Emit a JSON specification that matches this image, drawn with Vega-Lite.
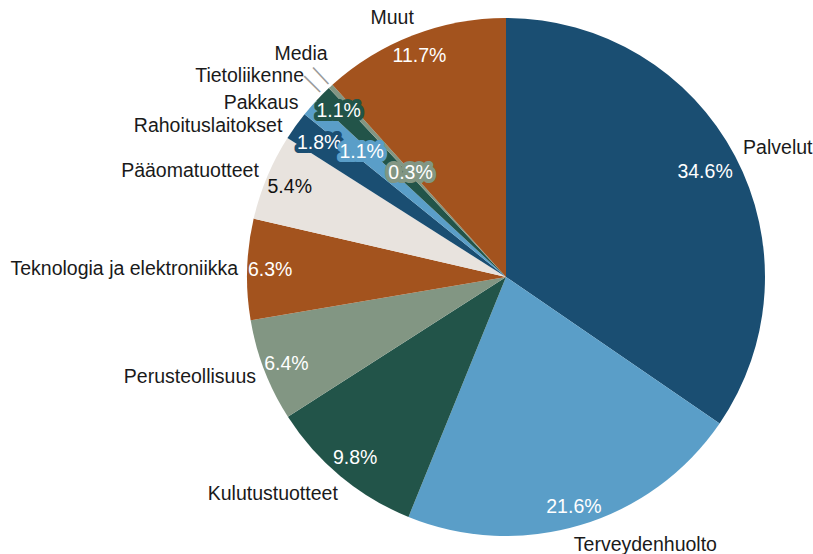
{
  "$schema": "https://vega.github.io/schema/vega-lite/v6.json",
  "width": 614,
  "height": 554,
  "autosize": "none",
  "padding": {"left": 199, "top": 0, "right": 0, "bottom": 0},
  "background": "white",
  "config": {"view": {"stroke": null}, "text": {"font": "Liberation Sans", "fontSize": 19.5, "baseline": "middle"}},
  "data": {"values": [
    {"k": "Palvelut", "v": 0.346, "i": 1},
    {"k": "Terveydenhuolto", "v": 0.216, "i": 2},
    {"k": "Kulutustuotteet", "v": 0.098, "i": 3},
    {"k": "Perusteollisuus", "v": 0.064, "i": 4},
    {"k": "Teknologia ja elektroniikka", "v": 0.063, "i": 5},
    {"k": "Pääomatuotteet", "v": 0.054, "i": 6},
    {"k": "Rahoituslaitokset", "v": 0.018, "i": 7},
    {"k": "Pakkaus", "v": 0.011, "i": 8},
    {"k": "Tietoliikenne", "v": 0.011, "i": 9},
    {"k": "Media", "v": 0.003, "i": 10},
    {"k": "Muut", "v": 0.117, "i": 11}
  ]},
  "encoding": {
    "theta": {"field": "v", "type": "quantitative", "stack": true},
    "order": {"field": "i", "type": "quantitative"}
  },
  "layer": [
    {
      "mark": {"type": "arc", "outerRadius": 259},
      "encoding": {
        "color": {"field": "k", "type": "nominal", "legend": null,
          "scale": {"domain": ["Palvelut","Terveydenhuolto","Kulutustuotteet","Perusteollisuus","Teknologia ja elektroniikka","Pääomatuotteet","Rahoituslaitokset","Pakkaus","Tietoliikenne","Media","Muut"],
                    "range": ["#1a4e72","#5a9ec8","#225449","#829683","#a3531e","#e8e3de","#1a4e72","#5a9ec8","#225449","#829683","#a3531e"]}}
      }
    },
    {
      "mark": {"type": "text", "radius": 273, "angle": 315, "font": "DejaVu Sans", "fontSize": 19, "fill": "#9a9a9a"},
      "encoding": {"text": {"condition": {"test": "datum.k === 'Tietoliikenne'", "value": "│"}, "value": ""}}
    },
    {
      "mark": {"type": "text", "radius": 273, "angle": 317, "font": "DejaVu Sans", "fontSize": 19, "fill": "#9a9a9a"},
      "encoding": {"text": {"condition": {"test": "datum.k === 'Media'", "value": "│"}, "value": ""}}
    },
    {
      "mark": {"type": "text", "radius": 268, "align": "left", "dy": -4, "fill": "#1a1a1a"},
      "encoding": {"text": {"condition": {"test": "datum.k === 'Palvelut'", "field": "k"}, "value": ""}}
    },
    {
      "mark": {"type": "text", "radius": 274, "align": "left", "dx": -11, "dy": 6, "fill": "#1a1a1a"},
      "encoding": {"text": {"condition": {"test": "datum.k === 'Terveydenhuolto'", "field": "k"}, "value": ""}}
    },
    {
      "mark": {"type": "text", "radius": 285, "align": "right", "dx": 14, "dy": -2, "fill": "#1a1a1a"},
      "encoding": {"text": {"condition": {"test": "datum.k === 'Kulutustuotteet'", "field": "k"}, "value": ""}}
    },
    {
      "mark": {"type": "text", "radius": 268, "align": "right", "dy": 3, "fill": "#1a1a1a"},
      "encoding": {"text": {"condition": {"test": "datum.k === 'Perusteollisuus'", "field": "k"}, "value": ""}}
    },
    {
      "mark": {"type": "text", "radius": 268, "align": "right", "fill": "#1a1a1a"},
      "encoding": {"text": {"condition": {"test": "datum.k === 'Teknologia ja elektroniikka'", "field": "k"}, "value": ""}}
    },
    {
      "mark": {"type": "text", "radius": 268, "align": "right", "dy": -2, "fill": "#1a1a1a"},
      "encoding": {"text": {"condition": {"test": "datum.k === 'Pääomatuotteet'", "field": "k"}, "value": ""}}
    },
    {
      "mark": {"type": "text", "radius": 268, "align": "right", "dx": -6, "dy": 5, "fill": "#1a1a1a"},
      "encoding": {"text": {"condition": {"test": "datum.k === 'Rahoituslaitokset'", "field": "k"}, "value": ""}}
    },
    {
      "mark": {"type": "text", "radius": 268, "align": "right", "dx": -5, "dy": 2, "fill": "#1a1a1a"},
      "encoding": {"text": {"condition": {"test": "datum.k === 'Pakkaus'", "field": "k"}, "value": ""}}
    },
    {
      "mark": {"type": "text", "radius": 285, "align": "right", "fill": "#1a1a1a"},
      "encoding": {"text": {"condition": {"test": "datum.k === 'Tietoliikenne'", "field": "k"}, "value": ""}}
    },
    {
      "mark": {"type": "text", "radius": 290, "align": "right", "dx": 18, "dy": -10, "fill": "#1a1a1a"},
      "encoding": {"text": {"condition": {"test": "datum.k === 'Media'", "field": "k"}, "value": ""}}
    },
    {
      "mark": {"type": "text", "radius": 278, "align": "center", "dx": -14, "fill": "#1a1a1a"},
      "encoding": {"text": {"condition": {"test": "datum.k === 'Muut'", "field": "k"}, "value": ""}}
    },
    {
      "mark": {"type": "text", "radius": 225, "fill": "white"},
      "encoding": {"text": {"condition": {"test": "datum.k === 'Palvelut'", "field": "v", "format": ".1%"}, "value": ""}}
    },
    {
      "mark": {"type": "text", "radius": 236, "dy": 4, "fill": "white"},
      "encoding": {"text": {"condition": {"test": "datum.k === 'Terveydenhuolto'", "field": "v", "format": ".1%"}, "value": ""}}
    },
    {
      "mark": {"type": "text", "radius": 236, "fill": "white"},
      "encoding": {"text": {"condition": {"test": "indexof(['Kulutustuotteet','Teknologia ja elektroniikka'], datum.k) >= 0", "field": "v", "format": ".1%"}, "value": ""}}
    },
    {
      "mark": {"type": "text", "radius": 230, "dx": -5, "dy": 4, "fill": "white"},
      "encoding": {"text": {"condition": {"test": "datum.k === 'Perusteollisuus'", "field": "v", "format": ".1%"}, "value": ""}}
    },
    {
      "mark": {"type": "text", "radius": 241, "dx": 6, "dy": 3, "fill": "#111111"},
      "encoding": {"text": {"condition": {"test": "datum.k === 'Pääomatuotteet'", "field": "v", "format": ".1%"}, "value": ""}}
    },
    {
      "mark": {"type": "text", "radius": 241, "dy": 4, "fill": "white"},
      "encoding": {"text": {"condition": {"test": "datum.k === 'Muut'", "field": "v", "format": ".1%"}, "value": ""}}
    },
    {
      "mark": {"type": "text", "radius": 236, "strokeWidth": 8, "strokeJoin": "round"},
      "encoding": {
        "text": {"condition": {"test": "datum.k === 'Tietoliikenne'", "field": "v", "format": ".1%"}, "value": ""},
        "fill": {"value": "#225449"}, "stroke": {"value": "#225449"}
      }
    },
    {
      "mark": {"type": "text", "radius": 236, "fill": "white"},
      "encoding": {"text": {"condition": {"test": "datum.k === 'Tietoliikenne'", "field": "v", "format": ".1%"}, "value": ""}}
    },
    {
      "mark": {"type": "text", "radius": 230, "strokeWidth": 8, "strokeJoin": "round"},
      "encoding": {
        "text": {"condition": {"test": "datum.k === 'Rahoituslaitokset'", "field": "v", "format": ".1%"}, "value": ""},
        "fill": {"value": "#1a4e72"}, "stroke": {"value": "#1a4e72"}
      }
    },
    {
      "mark": {"type": "text", "radius": 230, "fill": "white"},
      "encoding": {"text": {"condition": {"test": "datum.k === 'Rahoituslaitokset'", "field": "v", "format": ".1%"}, "value": ""}}
    },
    {
      "mark": {"type": "text", "radius": 191, "strokeWidth": 8, "strokeJoin": "round"},
      "encoding": {
        "text": {"condition": {"test": "datum.k === 'Pakkaus'", "field": "v", "format": ".1%"}, "value": ""},
        "fill": {"value": "#5a9ec8"}, "stroke": {"value": "#5a9ec8"}
      }
    },
    {
      "mark": {"type": "text", "radius": 191, "fill": "white"},
      "encoding": {"text": {"condition": {"test": "datum.k === 'Pakkaus'", "field": "v", "format": ".1%"}, "value": ""}}
    },
    {
      "mark": {"type": "text", "radius": 141, "strokeWidth": 8, "strokeJoin": "round"},
      "encoding": {
        "text": {"condition": {"test": "datum.k === 'Media'", "field": "v", "format": ".1%"}, "value": ""},
        "fill": {"value": "#829683"}, "stroke": {"value": "#829683"}
      }
    },
    {
      "mark": {"type": "text", "radius": 141, "fill": "white"},
      "encoding": {"text": {"condition": {"test": "datum.k === 'Media'", "field": "v", "format": ".1%"}, "value": ""}}
    }
  ]
}
